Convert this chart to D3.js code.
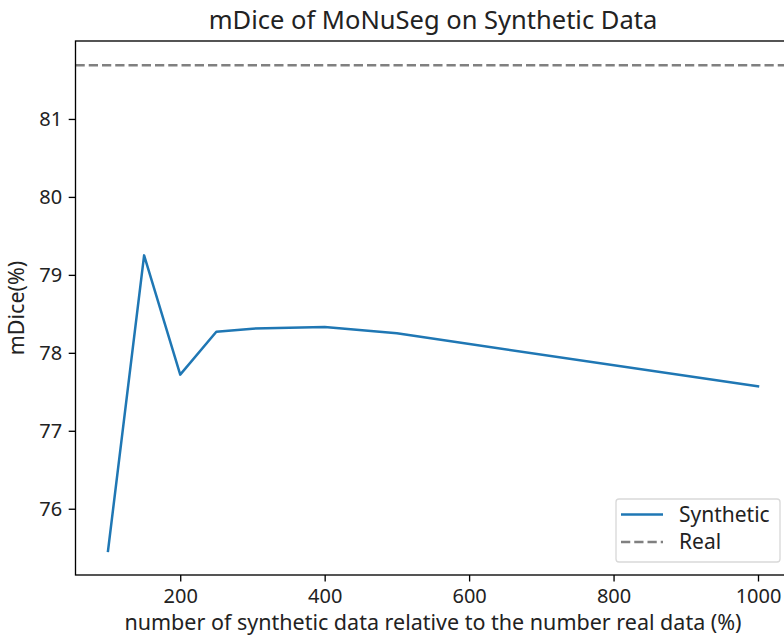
<!DOCTYPE html>
<html><head><meta charset="utf-8">
<script src="https://cdn.jsdelivr.net/npm/d3@7"></script>
<style>body{margin:0;background:#fff;}svg{display:block;font-family:"Noto Sans",sans-serif;}</style>
</head><body>
<script>
const xValues = [100, 150, 200, 250, 300, 400, 500, 1000];
const syntheticValues = [75.46, 79.25, 77.72, 78.27, 78.31, 78.33, 78.25, 77.57];
const realValue = 81.69;
const xTicks = [200, 400, 600, 800, 1000];
const yTicks = [76, 77, 78, 79, 80, 81];
const seriesNames = ["Synthetic", "Real"];

const W = 784, H = 635;
const L = 75.5, T = 41, R = 790.5, B = 575;
const FONT = "Noto Sans";
const TXT = "#222";
const svg = d3.select("body").append("svg").attr("width", W).attr("height", H);

const x = d3.scaleLinear().domain([55, 1045]).range([L, R]);
const y = d3.scaleLinear().domain([75.15, 82.0]).range([B, T]);

const fs = 20;
const gx = svg.append("g").attr("transform", `translate(0,${B})`)
  .call(d3.axisBottom(x).tickValues(xTicks).tickFormat(d3.format("d")).tickSize(6.5).tickPadding(7));
const gy = svg.append("g").attr("transform", `translate(${L},0)`)
  .call(d3.axisLeft(y).tickValues(yTicks).tickFormat(d3.format("d")).tickSize(6.8).tickPadding(6.5));
[gx, gy].forEach(g => {
  g.select(".domain").remove();
  g.selectAll("line").attr("stroke", "#000").attr("stroke-width", 1.33);
  g.selectAll("text").attr("font-size", fs).attr("fill", TXT).attr("font-family", FONT);
});

const line = d3.line().x((d, i) => x(xValues[i])).y(d => y(d));
svg.append("path").datum(syntheticValues).attr("d", line)
  .attr("fill", "none").attr("stroke", "#1f77b4").attr("stroke-width", 2.5)
  .attr("stroke-linejoin", "round").attr("stroke-linecap", "square");
svg.append("line").attr("x1", L).attr("x2", R).attr("y1", y(realValue)).attr("y2", y(realValue))
  .attr("stroke", "#808080").attr("stroke-width", 2.5).attr("stroke-dasharray", "9.25,4");

svg.append("rect").attr("x", L).attr("y", T).attr("width", R - L).attr("height", B - T)
  .attr("fill", "none").attr("stroke", "#000").attr("stroke-width", 1.33);

svg.append("text").attr("x", (L + R) / 2).attr("y", 28.5).attr("text-anchor", "middle")
  .attr("font-size", 25.5).attr("fill", TXT).text("mDice of MoNuSeg on Synthetic Data");
svg.append("text").attr("x", (L + R) / 2).attr("y", 629.5).attr("text-anchor", "middle")
  .attr("font-size", 21.5).attr("fill", TXT).text("number of synthetic data relative to the number real data (%)");
svg.append("text").attr("transform", `translate(24,${(T + B) / 2}) rotate(-90)`).attr("text-anchor", "middle")
  .attr("font-size", 21.5).attr("fill", TXT).text("mDice(%)");

const lg = svg.append("g");
lg.append("rect").attr("x", 616).attr("y", 499).attr("width", 164).attr("height", 63).attr("rx", 3)
  .attr("fill", "#fff").attr("fill-opacity", 0.8).attr("stroke", "#d9d9d9").attr("stroke-width", 1.33);
const styles = [{c: "#1f77b4", d: null}, {c: "#808080", d: "9.25,4"}];
seriesNames.forEach((n, i) => {
  const yy = 514.5 + i * 27.6;
  const l = lg.append("line").attr("x1", 621).attr("x2", 663).attr("y1", yy).attr("y2", yy)
    .attr("stroke", styles[i].c).attr("stroke-width", 2.5);
  if (styles[i].d) l.attr("stroke-dasharray", styles[i].d);
  lg.append("text").attr("x", 679).attr("y", yy + 7.2).attr("font-size", 21).attr("fill", TXT).text(n);
});
</script>
</body></html>
